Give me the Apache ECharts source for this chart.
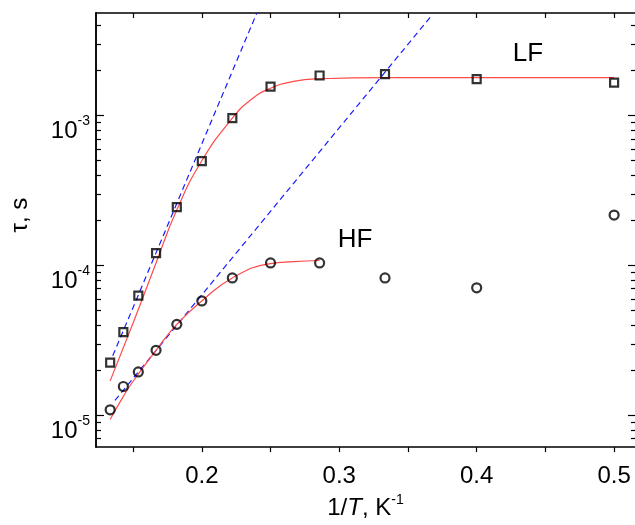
<!DOCTYPE html>
<html>
<head>
<meta charset="utf-8">
<script src="https://cdn.jsdelivr.net/npm/echarts@6/dist/echarts.min.js"></script>
<style>html,body{margin:0;padding:0;background:#fff;}#c{width:635px;height:525px;}</style>
</head>
<body>
<div id="c"></div>
<script>
// 1/T (K^-1) for measured points
const invT = [0.1333, 0.1429, 0.1538, 0.1667, 0.1818, 0.2, 0.2222, 0.25, 0.2857, 0.3333, 0.4, 0.5];
// relaxation times, s
const tauLF = [2.25e-5, 3.6e-5, 6.3e-5, 1.21e-4, 2.45e-4, 4.97e-4, 9.6e-4, 1.56e-3, 1.85e-3, 1.89e-3, 1.75e-3, 1.66e-3];
const tauHF = [1.09e-5, 1.56e-5, 1.95e-5, 2.72e-5, 4.05e-5, 5.8e-5, 8.26e-5, 1.04e-4, 1.04e-4, 8.26e-5, 7.1e-5, 2.17e-4];
// fitted curves (red)
const fitXLF = [0.1333, 0.15, 0.1667, 0.1818, 0.2, 0.2222, 0.2364, 0.25, 0.2667, 0.2857, 0.3333, 0.4, 0.5];
const fitLF = [1.70e-5, 4.14e-5, 1.04e-4, 2.35e-4, 5.0e-4, 9.6e-4, 1.29e-3, 1.52e-3, 1.69e-3, 1.76e-3, 1.79e-3, 1.79e-3, 1.79e-3];
const fitXHF = [0.1333, 0.1429, 0.15, 0.1667, 0.1818, 0.2, 0.2222, 0.25, 0.2667, 0.2857];
const fitHF = [9.4e-6, 1.34e-5, 1.69e-5, 2.72e-5, 4.05e-5, 5.8e-5, 8.26e-5, 1.03e-4, 1.06e-4, 1.08e-4];
// Arrhenius lines (blue dashed)
const arrXLF = [0.1352, 0.2399];
const arrLF = [2.5e-5, 4.8e-3];
const arrXHF = [0.1368, 0.3675];
const arrHF = [1.26e-5, 4.68e-3];
// ticks
const xTicks = [0.15, 0.2, 0.25, 0.3, 0.35, 0.4, 0.45, 0.5];
const xLabels = [0.2, 0.3, 0.4, 0.5];
const yMajor = [1e-5, 1e-4, 1e-3];
const yMinor = [7e-6, 8e-6, 9e-6, 2e-5, 3e-5, 4e-5, 5e-5, 6e-5, 7e-5, 8e-5, 9e-5,
  2e-4, 3e-4, 4e-4, 5e-4, 6e-4, 7e-4, 8e-4, 9e-4, 2e-3, 3e-3, 4e-3];

const FONT = '"Liberation Sans", Arial, sans-serif';
const XMIN = 0.123, XMAX = 0.5152, YMIN = 6.15e-6, YMAX = 4.83e-3;
const zip = (a, b) => a.map((v, i) => [v, b[i]]);

const chart = echarts.init(document.getElementById('c'), null, {renderer: 'canvas'});

function yAxisBase(pos, ticks, len, showLabel) {
  return {
    type: 'log', logBase: 10, min: YMIN, max: YMAX, position: pos,
    axisLine: {show: pos === 'left', lineStyle: {color: '#000', width: 1.5}},
    axisTick: {show: true, inside: true, length: len, customValues: ticks, lineStyle: {color: '#000', width: 1.2}},
    axisLabel: showLabel ? {
      show: true, customValues: yMajor, margin: 6, color: '#000', padding: [32, 0, 0, 0],
      formatter: function (v) {
        const l = Math.log10(v); const e = Math.round(l);
        if (Math.abs(l - e) > 1e-6) return '';
        return '{a|10}{b|' + e + '}';
      },
      rich: {
        a: {fontSize: 24, fontFamily: FONT, color: '#000', lineHeight: 24, verticalAlign: 'bottom'},
        b: {fontSize: 14, fontFamily: FONT, color: '#000', lineHeight: 14, verticalAlign: 'bottom', padding: [0, 0, 15, 0]}
      }
    } : {show: false},
    splitLine: {show: false}, minorTick: {show: false}
  };
}

const yAxes = [yAxisBase('left', yMajor, 8, true), yAxisBase('left', yMinor, 5, false),
  yAxisBase('right', yMajor, 7, false), yAxisBase('right', yMinor, 4, false)];
yAxes[0].name = 'τ, s';
yAxes[0].nameLocation = 'middle';
yAxes[0].nameGap = 64;
yAxes[0].nameTextStyle = {fontSize: 24, fontFamily: FONT, color: '#000', padding: [0, 0, 0, 30]};

const option = {
  backgroundColor: '#fff',
  animation: false,
  grid: {left: 95, top: 13, width: 540, height: 439, containLabel: false},
  xAxis: [{
    type: 'value', min: XMIN, max: XMAX, position: 'bottom',
    axisLine: {lineStyle: {color: '#000', width: 1.5}},
    axisTick: {show: true, inside: false, length: 5, customValues: xTicks, lineStyle: {color: '#000', width: 1.2}},
    axisLabel: {customValues: xLabels, fontSize: 24, fontFamily: FONT, color: '#000', margin: 17,
      formatter: v => v.toFixed(1)},
    splitLine: {show: false},
    name: '{n|1/}{i|T}{n|, K}{s|-1}', nameLocation: 'middle', nameGap: 44,
    nameTextStyle: {rich: {
      n: {fontSize: 24, fontFamily: FONT, color: '#000', verticalAlign: 'bottom', lineHeight: 24},
      i: {fontSize: 24, fontFamily: FONT, fontStyle: 'italic', color: '#000', verticalAlign: 'bottom', lineHeight: 24},
      s: {fontSize: 14, fontFamily: FONT, color: '#000', verticalAlign: 'bottom', lineHeight: 14, padding: [0, 0, 13, 0]}
    }}
  }, {
    type: 'value', min: XMIN, max: XMAX, position: 'top',
    axisLine: {lineStyle: {color: '#000', width: 1.5}},
    axisTick: {show: true, inside: true, length: 5, customValues: xTicks, lineStyle: {color: '#000', width: 1.2}},
    axisLabel: {show: false}, splitLine: {show: false}
  }],
  yAxis: yAxes,
  graphic: [
    {type: 'text', x: 528, y: 54, style: {text: 'LF', fill: '#000', font: '26px ' + FONT, align: 'center', verticalAlign: 'middle', textAlign: 'center', textVerticalAlign: 'middle'}},
    {type: 'text', x: 355, y: 240, style: {text: 'HF', fill: '#000', font: '26px ' + FONT, align: 'center', verticalAlign: 'middle', textAlign: 'center', textVerticalAlign: 'middle'}}
  ],
  series: [
    {type: 'line', data: zip(arrXLF, arrLF), symbol: 'none', lineStyle: {color: '#1a1aff', width: 1.2, type: [6, 4]}, z: 2},
    {type: 'line', data: zip(arrXHF, arrHF), symbol: 'none', lineStyle: {color: '#1a1aff', width: 1.2, type: [6, 4]}, z: 2},
    {type: 'line', data: zip(fitXLF, fitLF), symbol: 'none', smooth: true, lineStyle: {color: '#ff4a4a', width: 1.2}, z: 3},
    {type: 'line', data: zip(fitXHF, fitHF), symbol: 'none', smooth: true, lineStyle: {color: '#ff4a4a', width: 1.2}, z: 3},
    {type: 'scatter', data: zip(invT, tauLF), symbol: 'rect', symbolSize: 8,
      itemStyle: {color: 'rgba(255,255,255,0)', borderColor: '#000', borderWidth: 2.2}, z: 4},
    {type: 'scatter', data: zip(invT, tauHF), symbol: 'circle', symbolSize: 9,
      itemStyle: {color: 'rgba(255,255,255,0)', borderColor: '#000', borderWidth: 2.2}, z: 4}
  ]
};
chart.setOption(option);
</script>
</body>
</html>
